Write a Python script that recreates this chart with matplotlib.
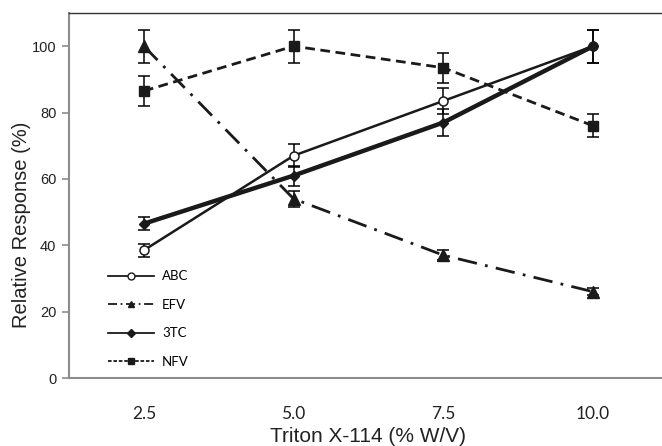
import numpy as np
import matplotlib
matplotlib.use("Agg")
import matplotlib.pyplot as plt
from matplotlib.lines import Line2D

# data
conc = ["2.5", "5.0", "7.5", "10.0"]
abc = [38.5, 67, 83.5, 100]
abc_err = [2, 3.5, 4, 5]
efv = [100, 54, 37, 26]
efv_err = [5, 2.5, 1.5, 1]
tc3 = [46.5, 61, 77, 100]
tc3_err = [2, 3, 4, 5]
nfv = [86.5, 100, 93.5, 76]
nfv_err = [4.5, 5, 4.5, 3.5]

x = np.arange(len(conc)) + 0.5

fig = plt.figure(figsize=(6.62, 4.46), dpi=100)
ax = fig.add_axes([69/662, 68/446, 599/662, 365/446])

common = dict(ecolor='black', elinewidth=1.1, capsize=4, capthick=1.1)
ax.errorbar(x, nfv, yerr=nfv_err, color='#1a1a1a', lw=2, ls=(0, (3.5, 2)),
            marker='s', ms=7.5, mfc='#1a1a1a', **common)
ax.errorbar(x, efv, yerr=efv_err, color='#1a1a1a', lw=2, ls=(0, (7, 3, 1, 3)),
            marker='^', ms=9, mfc='#1a1a1a', **common)
ax.errorbar(x, abc, yerr=abc_err, color='#1a1a1a', lw=1.8, ls='-',
            marker='o', ms=6.5, mfc='white', mew=1.1, **common)
ax.errorbar(x, tc3, yerr=tc3_err, color='#1a1a1a', lw=3.2, ls='-',
            marker='D', ms=5, mfc='#1a1a1a', **common)

ax.set_xlim(0, 4)
ax.set_ylim(0, 110)
ax.set_yticks(range(0, 101, 20))
ax.set_xticks(x)
ax.set_xticklabels(conc, family='Lato', fontsize=12.5, color='#222222')
ax.tick_params(axis='x', length=0, pad=20)
ax.tick_params(axis='y', length=5, color='#8c8c8c', width=1.2, labelsize=10.5,
               labelcolor='#222222', pad=4)
for lab in ax.get_yticklabels():
    lab.set_family('Liberation Sans')

ax.spines['right'].set_visible(False)
ax.spines['left'].set_color('#8c8c8c')
ax.spines['left'].set_linewidth(1.5)
ax.spines['bottom'].set_color('#8c8c8c')
ax.spines['bottom'].set_linewidth(1.5)
ax.spines['top'].set_color('#333333')
ax.spines['top'].set_linewidth(1)

ax.set_xlabel("Triton X-114 (% W/V)", family='Liberation Sans', fontsize=15,
              color='#222222', labelpad=4)
ax.set_ylabel("Relative Response (%)", family='Liberation Sans', fontsize=14.5,
              color='#222222')
ax.yaxis.set_label_coords(-0.064, 0.42)

handles = [
    Line2D([], [], color='#1a1a1a', lw=1.3, ls='-', marker='o', ms=5, mfc='white'),
    Line2D([], [], color='#1a1a1a', lw=1.3, ls=(0, (5, 2, 1, 2)), marker='^', ms=5),
    Line2D([], [], color='#1a1a1a', lw=1.3, ls='-', marker='D', ms=4),
    Line2D([], [], color='#1a1a1a', lw=1.3, ls=(0, (2, 1)), marker='s', ms=5),
]
leg = ax.legend(handles, ["ABC", "EFV", "3TC", "NFV"], loc='lower left',
                bbox_to_anchor=(0.045, -0.005), frameon=False, handlelength=3.5,
                labelspacing=1.25, handletextpad=0.6,
                prop={'family': 'Lato', 'size': 9.5})

fig.savefig("out.png", dpi=100)
